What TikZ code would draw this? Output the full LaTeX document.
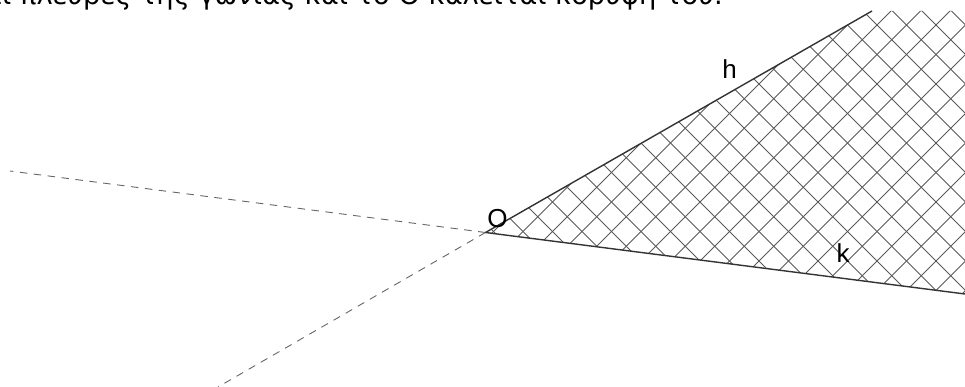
\documentclass[tikz,border=0pt]{standalone}
\usepackage{fontspec}
\setmainfont{DejaVu Sans}
\newfontfamily\labfont{Liberation Sans}
\begin{document}
\begin{tikzpicture}[x=1pt,y=-1pt,
  ray/.style={draw=black!80, line width=1.4pt},
  ext/.style={draw=black!60, line width=0.9pt, dash pattern=on 7.5pt off 6.5pt},
  hatch/.style={draw=black!65, line width=0.8pt},
  lab/.style={inner sep=0pt, font=\labfont\fontsize{26}{30}\selectfont},
  toptext/.style={anchor=base west, inner sep=0pt, font=\fontsize{27.3}{32}\selectfont}]
\useasboundingbox (0,0) rectangle (965,387);
\clip (0,0) rectangle (965,387);
\node[toptext] (txt) at (-16,4.8) {αι πλευρές της γωνίας και το O καλείται κορυφή του.};
\coordinate (O) at (485.5,232.5);
\coordinate (H) at (872,11);
\coordinate (C) at (965,11);
\coordinate (K) at (965,294);
\coordinate (Hx) at (218,387);
\coordinate (Kx) at (10,171);
\begin{scope}
  \clip (O) -- (H) -- (C) -- (K) -- cycle;
  \foreach \k in {-4,...,23} {
    \draw[hatch] (400,{400-852+29.5*\k}) -- (1000,{1000-852+29.5*\k});
  }
  \foreach \m in {-7,...,13} {
    \draw[hatch] (400,{902+29.5*\m-400}) -- (1000,{902+29.5*\m-1000});
  }
\end{scope}
\draw[ext] (O) -- (Kx);
\draw[ext] (O) -- (Hx);
\draw[ray] (O) -- (H);
\draw[ray] (O) -- (K);
\node[lab] (h) at (729.5,69.5) {h};
\node[lab] (k) at (843,253.5) {k};
\node[lab] (o) at (497.5,219) {O};
\end{tikzpicture}
\end{document}
